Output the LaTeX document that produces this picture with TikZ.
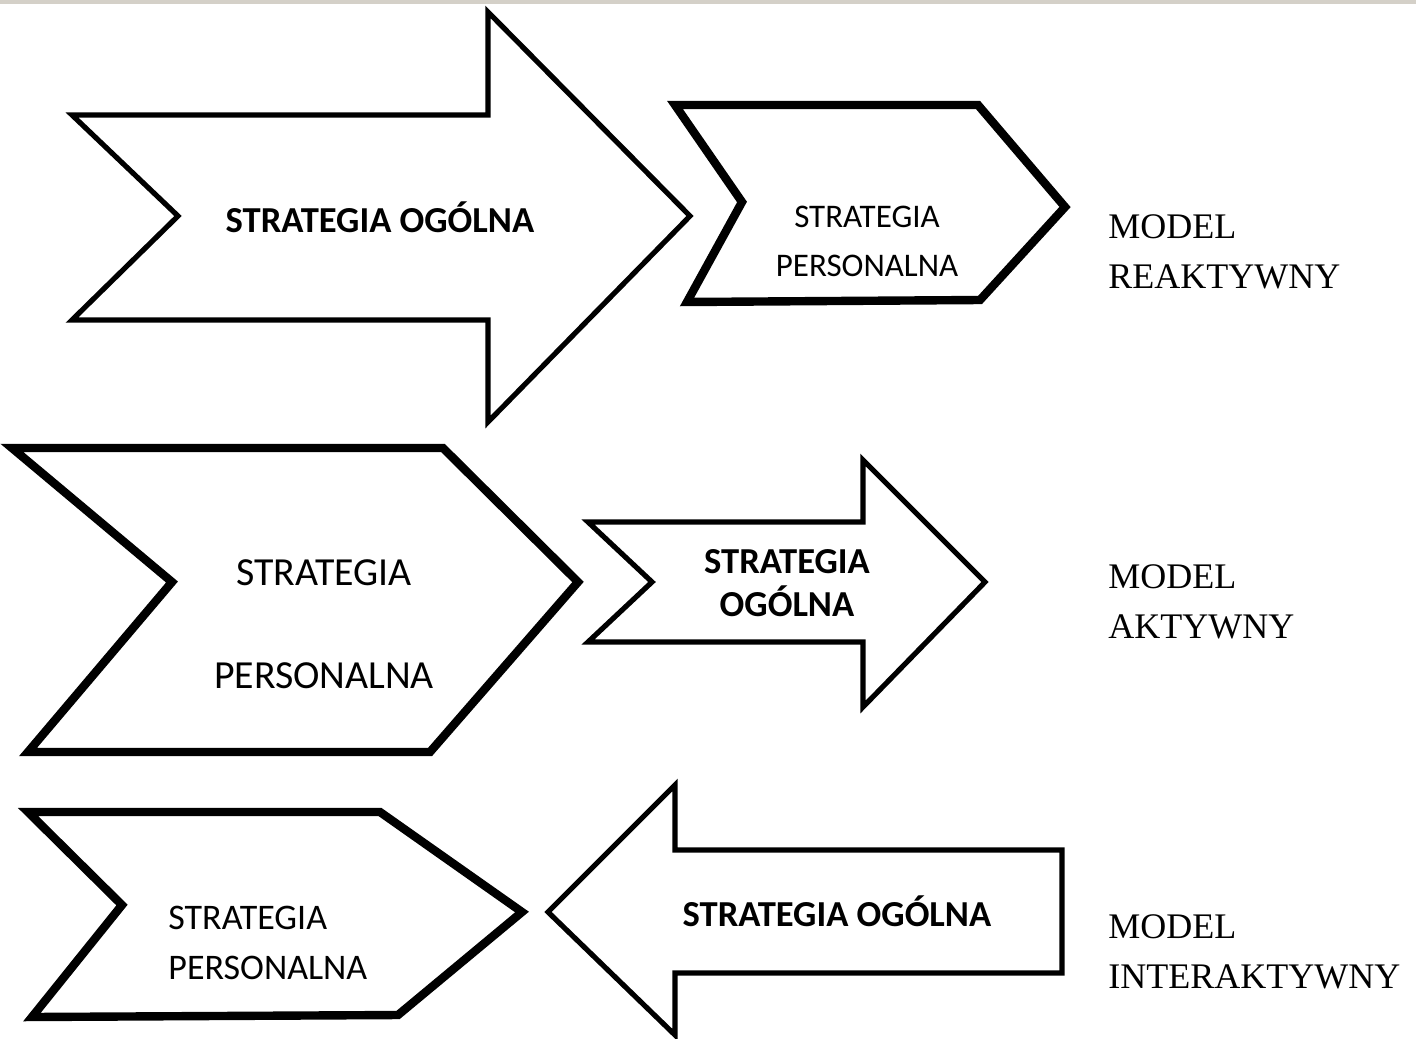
\documentclass[tikz,border=0pt]{standalone}
\usepackage{fontspec}
\setmainfont{Liberation Serif}
\newfontfamily\calibri{Carlito}

\begin{document}
\begin{tikzpicture}[x=0.5pt,y=-0.5pt]

  % One grey tone for the strip on top, the rest is black on white
  \definecolor{barGrey}{RGB}{212,208,200}
  \tikzset{
    thinarrow/.style={draw=black,fill=white,line width=2.6pt,line join=miter},
    thickchev/.style={draw=black,fill=white,line width=4.2pt,line join=miter},
    txt/.style={inner sep=0pt,align=center,font=\calibri\fontsize{#1}{#1}\selectfont},
    modeltxt/.style={inner sep=0pt,anchor=west,align=left,font=\fontsize{18}{25}\selectfont}
  }

  % Page of 1416 x 1038 px
  \useasboundingbox (0,0) rectangle (1416,1038);
  \fill[barGrey] (0,0) rectangle (1416,4);

  % ---- Row 1: big arrow, then chevron ----
  \draw[thinarrow] (72,115) -- (488,115) -- (488,12) -- (690,216) -- (488,422)
    -- (488,320) -- (72,320) -- (178,216) -- cycle;
  \node[txt=18.3] (ogolnaA) at (380,217) {\bfseries STRATEGIA OGÓLNA};

  \draw[thickchev] (675,105) -- (978,105) -- (1065,207) -- (980,300) -- (687,302)
    -- (742,202) -- cycle;
  \node[txt=16.5,font=\calibri\fontsize{16.5}{24.5}\selectfont] (personalA) at (867,241.5)
    {STRATEGIA\\PERSONALNA};

  % ---- Row 2: big chevron, then arrow ----
  \draw[thickchev] (12,448) -- (443,448) -- (578,582) -- (430,752) -- (28,752)
    -- (172,582) -- cycle;
  \node[txt=19.9,font=\calibri\fontsize{19.9}{51.5}\selectfont] (personalB) at (324,624.5)
    {STRATEGIA\\PERSONALNA};

  \draw[thinarrow] (588,522) -- (863,522) -- (863,460) -- (985,582) -- (863,707)
    -- (863,642) -- (588,642) -- (652,582) -- cycle;
  \node[txt=18,font=\calibri\bfseries\fontsize{18.3}{21.5}\selectfont] (ogolnaB) at (787,583)
    {STRATEGIA\\OGÓLNA};

  % ---- Row 3: chevron, arrow pointing back ----
  \draw[thickchev] (28,812) -- (380,812) -- (522,912) -- (398,1015) -- (32,1017)
    -- (122,905) -- cycle;
  \node[txt=18,font=\calibri\fontsize{18}{25}\selectfont,align=left,anchor=west]
    (personalC) at (168,943) {STRATEGIA\\PERSONALNA};

  \draw[thinarrow] (548,912) -- (675,785) -- (675,850) -- (1062,850) -- (1062,973)
    -- (675,973) -- (675,1035) -- cycle;
  \node[txt=18.3] (ogolnaC) at (837,911) {\bfseries STRATEGIA OGÓLNA};

  % ---- Model names on the right ----
  \foreach \nm/\y/\kind in {reakt/251.5/REAKTYWNY,akt/602/AKTYWNY,inter/952/INTERAKTYWNY}
    \node[modeltxt] (model\nm) at (1108,\y) {MODEL\\\kind};

\end{tikzpicture}
\end{document}
